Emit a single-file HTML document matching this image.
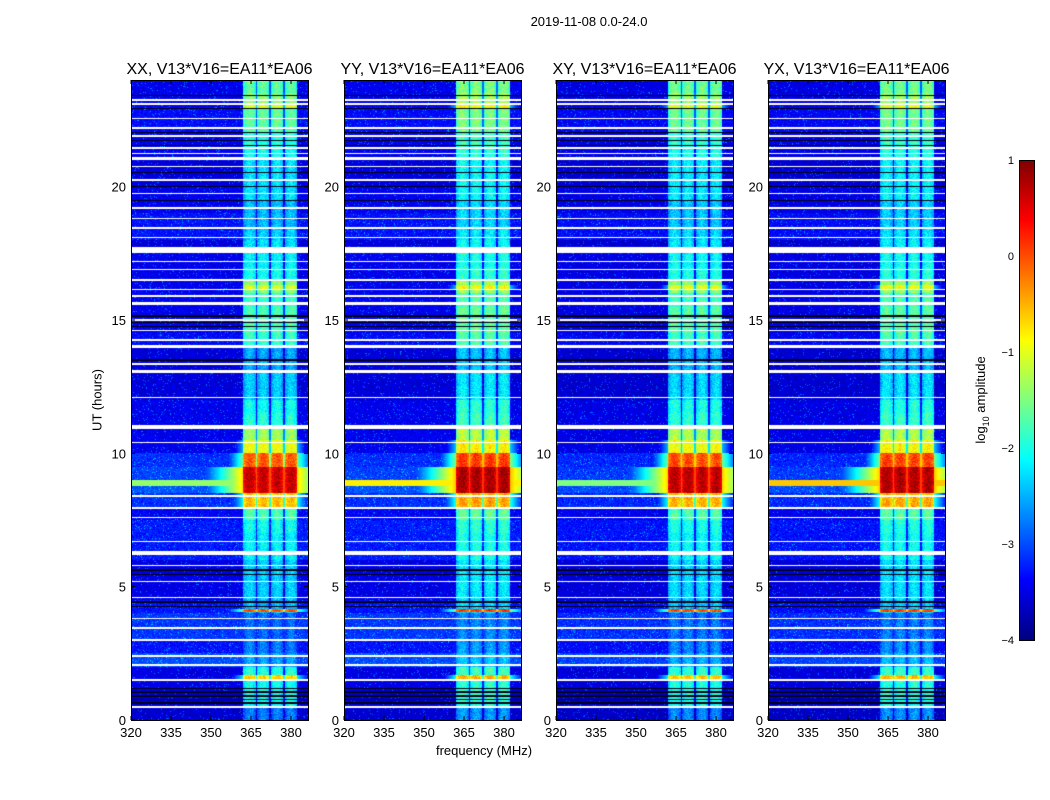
<!DOCTYPE html>
<html><head><meta charset="utf-8">
<style>
body{margin:0;background:#fff;font-family:"Liberation Sans",sans-serif;}
#root{position:relative;width:1050px;height:800px;overflow:hidden;background:#fff;}
.t{position:absolute;white-space:nowrap;color:#000;}
canvas{position:absolute;}
</style></head>
<body>
<div id="root">
<div class="t" style="left:589px;top:14px;font-size:13px;transform:translateX(-50%)">2019-11-08 0.0-24.0</div>
<div class="t" style="left:97px;top:400px;font-size:13px;transform:translate(-50%,-50%) rotate(-90deg)">UT (hours)</div>
<div class="t" style="left:484px;top:743px;font-size:13px;transform:translateX(-50%)">frequency (MHz)</div>
<div class="t" style="left:982px;top:400px;font-size:13px;transform:translate(-50%,-50%) rotate(-90deg)">log<sub style="font-size:9px">10</sub> amplitude</div>
<svg id="axes" width="1050" height="800" style="position:absolute;left:0;top:0"></svg>
</div>
<script>
// ---- data ----
const panelTitles = ["XX, V13*V16=EA11*EA06","YY, V13*V16=EA11*EA06","XY, V13*V16=EA11*EA06","YX, V13*V16=EA11*EA06"];
const xTicks = [320,335,350,365,380];
const yTicks = [0,5,10,15,20];
const cbTicks = [1,0,-1,-2,-3,-4];
// RFI band log amplitude per 0.5 h segment (0..24 h)
const rfiLevel = [-2.7,-2.0,-2.0,-1.9,-2.5,-2.7,-2.8,-2.8,-2.4,-2.3,-2.3,-2.3,-2.1,-2.1,-2.0,-1.7,
                  -0.5,0.7,0.7,0.0,-0.9,-1.3,-1.9,-2.0,-2.3,-2.3,-2.5,-2.5,-1.8,-1.7,-1.7,-1.8,
                  -1.4,-2.0,-2.1,-2.2,-2.3,-2.4,-2.4,-2.2,-2.2,-2.2,-2.0,-1.9,-1.6,-1.6,-1.4,-1.6];
// narrow RFI lines: [t0, t1, level]
const rfiLines = [[1.55,1.68,-0.6],[4.05,4.15,0.0],[16.15,16.3,-1.0],[22.95,23.05,-1.0]];
// background log amplitude per 0.5 h segment
const baseLevel = [-3.6,-3.6,-3.5,-3.5,-3.0,-3.3,-3.1,-3.1,-3.3,-3.5,-3.5,-3.5,-3.25,-3.25,-3.25,-3.4,
                   -3.15,-2.95,-3.05,-3.15,-3.45,-3.45,-3.45,-3.45,-3.55,-3.55,-3.55,-3.55,-3.35,-3.45,-3.45,-3.45,
                   -3.45,-3.45,-3.45,-3.55,-3.3,-3.3,-3.45,-3.45,-3.55,-3.55,-3.45,-3.45,-3.35,-3.35,-3.45,-3.45];
const panelRfiOffset = [0,0.15,0.05,0.1];
const panelLineLevel = [-1.4,-0.8,-1.5,-0.6];
const panelBaseOffset = [0,0,-0.05,-0.05];
// flagged (white) time ranges in hours
const flagRows = [[0.45,0.52],[1.48,1.53],[2.04,2.09],[2.38,2.42],[2.98,3.04],[3.43,3.47],[3.78,3.82],[4.58,4.63],[5.18,5.23],[5.78,5.83],[6.2,6.35],[6.68,6.72],[7.58,7.63],[7.93,7.97],[8.38,8.42],[10.38,10.43],[10.9,11.07],[12.08,12.12],[13.0,13.12],[13.33,13.37],[13.95,14.07],[14.23,14.27],[14.58,14.62],[14.98,15.02],[15.55,15.67],[15.88,15.92],[16.13,16.17],[16.48,16.52],[16.88,16.92],[17.18,17.22],[17.5,17.72],[18.08,18.12],[18.43,18.47],[18.78,18.82],[19.18,19.22],[19.73,19.77],[20.23,20.27],[20.73,20.77],[21.0,21.1],[21.23,21.27],[21.43,21.47],[21.85,21.95],[22.18,22.22],[22.53,22.57],[23.08,23.12],[23.23,23.27]];
// dark (black) time ranges
const blackRows = [[0.6,0.68],[0.75,0.8],[0.88,0.95],[1.02,1.08],[1.15,1.2],[4.22,4.28],[4.38,4.45],[5.42,5.48],[5.6,5.66],[13.45,13.52],[14.72,14.78],[14.88,14.93],[15.12,15.18],[19.45,19.5],[21.7,21.76],[21.52,21.56],[20.0,20.04],[20.5,20.54],[22.0,22.04],[22.9,22.94],[23.4,23.44]];
// RFI channel bands (MHz)
const bandLo = [362.1,367.3,372.6,377.8];
const bandHi = [366.9,371.9,377.1,382.3];

// ---- layout ----
const panelLeft = [131,344,556,768];
const pw = 177, pTop = 80, pBot = 720;
const fMin = 320, fMax = 320 + 177/2.667;
const tMax = 24;
function xs(p,f){return panelLeft[p] + (f-fMin)/(fMax-fMin)*pw;}
function ys(t){return pBot - t/tMax*(pBot-pTop);}

function jet(v){
  let f=(v+4)/5; f=Math.max(0,Math.min(1,f));
  const c=x=>Math.max(0,Math.min(1,x));
  return [c(1.5-Math.abs(4*f-3))*255,c(1.5-Math.abs(4*f-2))*255,c(1.5-Math.abs(4*f-1))*255];
}
function hash(x,y){let h=(x*374761393+y*668265263)^(x*y*2246822519);h=(h^(h>>>13))*1274126177;h=h^(h>>>16);return ((h>>>0)%1000)/1000;}
function inRanges(t,arr){for(const r of arr){if(t>=r[0]&&t<=r[1])return true;}return false;}

const root=document.getElementById('root');
const svg=document.getElementById('axes');
const NS="http://www.w3.org/2000/svg";

for(let p=0;p<4;p++){
  const cv=document.createElement('canvas');
  cv.width=pw; cv.height=pBot-pTop;
  cv.style.left=panelLeft[p]+'px'; cv.style.top=pTop+'px';
  
  
  root.insertBefore(cv,svg);
  const ctx=cv.getContext('2d');
  const img=ctx.createImageData(pw,pBot-pTop);
  for(let y=0;y<pBot-pTop;y++){
    const t=(pBot-pTop-y-0.5)/(pBot-pTop)*tMax;
    const seg=Math.min(47,Math.floor(t*2));
    const flag=inRanges(t,flagRows), blk=inRanges(t,blackRows);
    let rfi=rfiLevel[seg]+panelRfiOffset[p];
    for(const L of rfiLines){if(t>=L[0]&&t<=L[1])rfi=Math.max(rfi,L[2]+panelRfiOffset[p]);}
    const base=baseLevel[seg]+panelBaseOffset[p];
    for(let x=0;x<pw;x++){
      const i=(y*pw+x)*4;
      let rgb;
      if(flag){rgb=[255,255,255];}
      else if(blk){rgb=[0,0,20];}
      else{
        const f=fMin+(x+0.5)/pw*(fMax-fMin);
        const n=hash(x+p*300,y);
        let v=base+(n-0.5)*0.4+(n>0.96?0.5:0);
        let inB=-1;
        for(let b=0;b<4;b++){if(f>=bandLo[b]&&f<=bandHi[b])inB=b;}
        if(inB>=0){
          const mid=(bandLo[inB]+bandHi[inB])/2;
          const edge=Math.abs(f-mid)/((bandHi[inB]-bandLo[inB])/2);
          v=Math.max(v,rfi-0.4*edge*edge+(hash(x,y+p*999)-0.5)*0.5);
        } else if(f>=bandLo[0]&&f<=bandHi[3]){
          v=Math.max(v,rfi-(rfi>0?0.7:1.4));
        } else if(rfi>0.2){
          const d=f<bandLo[0]?bandLo[0]-f:f-bandHi[3];
          v=Math.max(v,rfi-1.4-d*0.17);
        } else if(rfi>-1.0){
          const d=f<bandLo[0]?bandLo[0]-f:f-bandHi[3];
          v=Math.max(v,rfi-1.6-d*0.3);
        }
        if(t>=8.78&&t<=9.0)v=Math.max(v,panelLineLevel[p]);
        rgb=jet(v);
      }
      img.data[i]=rgb[0];img.data[i+1]=rgb[1];img.data[i+2]=rgb[2];img.data[i+3]=255;
    }
  }
  ctx.putImageData(img,0,0);

  const fr=document.createElementNS(NS,'rect');
  fr.setAttribute('x',panelLeft[p]+0.5);fr.setAttribute('y',pTop+0.5);
  fr.setAttribute('width',pw);fr.setAttribute('height',pBot-pTop);
  fr.setAttribute('fill','none');fr.setAttribute('stroke','#000');
  
  
  svg.appendChild(fr);
  const tt=document.createElementNS(NS,'text');
  tt.setAttribute('x',panelLeft[p]+pw/2);tt.setAttribute('y',74);
  tt.setAttribute('text-anchor','middle');tt.setAttribute('font-size','16');
  tt.setAttribute('font-family','Liberation Sans, sans-serif');
  tt.textContent=panelTitles[p];
  
  
  svg.appendChild(tt);
  for(const xv of xTicks){
    const X=xs(p,xv);
    const tk=document.createElementNS(NS,'text');
    tk.setAttribute('x',X);tk.setAttribute('y',737);tk.setAttribute('text-anchor','middle');
    tk.setAttribute('font-size','13');tk.setAttribute('font-family','Liberation Sans, sans-serif');
    tk.textContent=xv;
    
    
    svg.appendChild(tk);
    for(const yy of [[pBot,pBot-4],[pTop,pTop+4]]){
      const l=document.createElementNS(NS,'line');
      l.setAttribute('x1',X);l.setAttribute('x2',X);l.setAttribute('y1',yy[0]);l.setAttribute('y2',yy[1]);
      l.setAttribute('stroke','#000');
      
      
      svg.appendChild(l);
    }
  }
  for(const yv of yTicks){
    const Y=ys(yv);
    const tk=document.createElementNS(NS,'text');
    tk.setAttribute('x',panelLeft[p]-5);tk.setAttribute('y',Y+5);tk.setAttribute('text-anchor','end');
    tk.setAttribute('font-size','13');tk.setAttribute('font-family','Liberation Sans, sans-serif');
    tk.textContent=yv;
    
    
    svg.appendChild(tk);
    for(const xx of [[panelLeft[p],panelLeft[p]+4],[panelLeft[p]+pw,panelLeft[p]+pw-4]]){
      const l=document.createElementNS(NS,'line');
      l.setAttribute('x1',xx[0]);l.setAttribute('x2',xx[1]);l.setAttribute('y1',Y);l.setAttribute('y2',Y);
      l.setAttribute('stroke','#000');
      
      
      svg.appendChild(l);
    }
  }
}

const cbX=1019, cbW=15, cbTop=160, cbBot=640;
const cb=document.createElement('canvas');
cb.width=cbW;cb.height=cbBot-cbTop;cb.style.left=cbX+'px';cb.style.top=cbTop+'px';


root.insertBefore(cb,svg);
const cctx=cb.getContext('2d');
for(let y=0;y<cbBot-cbTop;y++){
  const v=1-(y+0.5)/(cbBot-cbTop)*5;
  const c=jet(v);cctx.fillStyle=`rgb(${c[0]|0},${c[1]|0},${c[2]|0})`;cctx.fillRect(0,y,cbW,1);
}
const cbf=document.createElementNS(NS,'rect');
cbf.setAttribute('x',cbX+0.5);cbf.setAttribute('y',cbTop+0.5);cbf.setAttribute('width',cbW);cbf.setAttribute('height',cbBot-cbTop);
cbf.setAttribute('fill','none');cbf.setAttribute('stroke','#000');


svg.appendChild(cbf);
for(const v of cbTicks){
  const Y=cbTop+(1-v)/5*(cbBot-cbTop);
  const tk=document.createElementNS(NS,'text');
  tk.setAttribute('x',1014);tk.setAttribute('y',Y+4);tk.setAttribute('text-anchor','end');
  tk.setAttribute('font-size','11');tk.setAttribute('font-family','Liberation Sans, DejaVu Sans, sans-serif');
  tk.textContent=v<0?'\u2212'+Math.abs(v):String(v);
  
  
  svg.appendChild(tk);
}
</script>
</body></html>
